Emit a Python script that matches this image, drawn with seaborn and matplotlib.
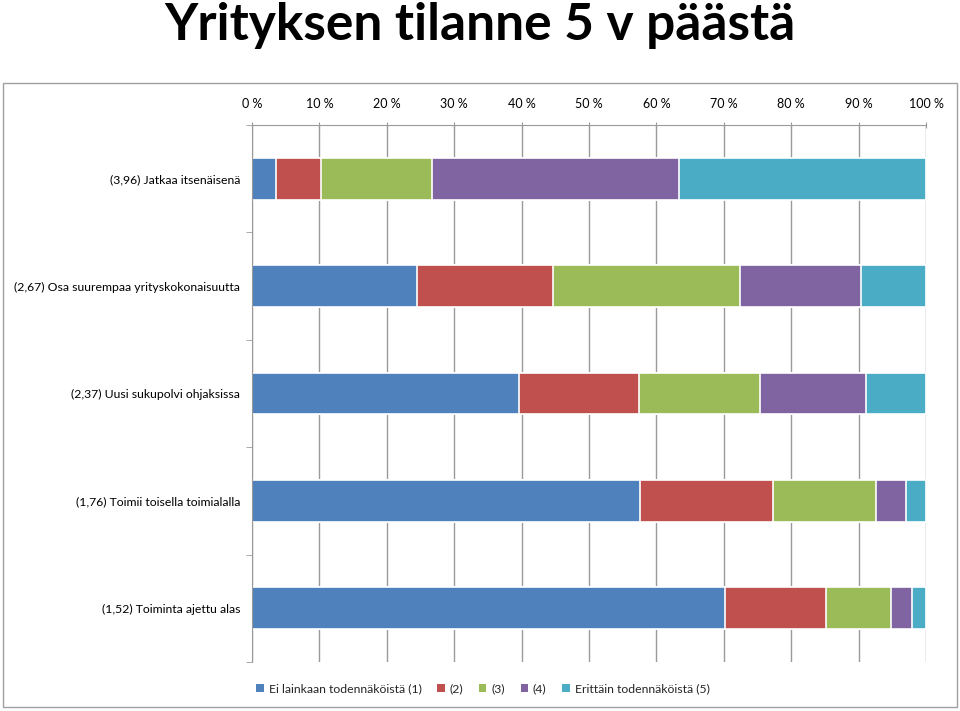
import matplotlib
matplotlib.use("Agg")
import matplotlib.pyplot as plt
from matplotlib.patches import Rectangle, Patch
import seaborn as sns
import pandas as pd
import numpy as np

# data (percent of answers per level)
categories = [
    "(3,96) Jatkaa itsenäisenä",
    "(2,67) Osa suurempaa yrityskokonaisuutta",
    "(2,37) Uusi sukupolvi ohjaksissa",
    "(1,76) Toimii toisella toimialalla",
    "(1,52) Toiminta ajettu alas",
]
level1 = [3.6, 24.5, 39.6, 57.6, 70.2]
level2 = [6.6, 20.2, 17.8, 19.7, 15.0]
level3 = [16.5, 27.7, 18.0, 15.3, 9.6]
level4 = [36.7, 18.0, 15.7, 4.4, 3.1]
level5 = [36.6, 9.6, 8.9, 3.0, 2.1]
level_names = ["Ei lainkaan todennäköistä (1)", "(2)", "(3)", "(4)", "Erittäin todennäköistä (5)"]
colors = ["#4F81BD", "#C0504D", "#9BBB59", "#8064A2", "#4BACC6"]
xticks = list(range(0, 101, 10))

sns.set_style("white")
plt.rcParams['font.family'] = ['Lato', 'DejaVu Sans']

df = pd.DataFrame({"cat": categories, "l1": level1, "l2": level2, "l3": level3,
                   "l4": level4, "l5": level5})
cols = ["l1", "l2", "l3", "l4", "l5"]
cum = df[cols].cumsum(axis=1)

fig = plt.figure(figsize=(9.6, 7.11), dpi=100)
ax = fig.add_axes([252 / 960, 1 - 662 / 711, (926 - 252) / 960, (662 - 125) / 711])

# stacked look: draw cumulative totals from the largest down
for i in range(4, -1, -1):
    sns.barplot(x=cum[cols[i]], y=df["cat"], color=colors[i], orient="h",
                width=0.39, saturation=1, edgecolor="white", linewidth=1.2, ax=ax)

ax.set_xlim(0, 100)
ax.set_ylim(4.5, -0.5)
ax.set_xticks(xticks)
ax.set_xticklabels([f"{t} %" for t in xticks])
ax.xaxis.tick_top()
ax.grid(axis="x", color="#9a9a9a", linewidth=1)
ax.set_axisbelow(True)
ax.set_xlabel("")
ax.set_ylabel("")
ax.tick_params(axis="x", top=True, length=4, direction="inout", color="#9a9a9a",
               labelsize=9, pad=9, labelcolor="black")
ax.tick_params(axis="y", which="major", length=0, labelsize=8.8, pad=8.5, labelcolor="black")
ax.set_yticks(np.arange(-0.5, 5, 1), minor=True)
ax.tick_params(axis="y", which="minor", left=True, length=4, color="#9a9a9a")
for s in ["right", "bottom"]:
    ax.spines[s].set_visible(False)
for s in ["left", "top"]:
    ax.spines[s].set_color("#9a9a9a")

# outer chart frame
fig.patches.append(Rectangle((3 / 960, 1 - 707 / 711), 954 / 960, 624 / 711,
                             transform=fig.transFigure, fill=False,
                             edgecolor="#a0a0a0", linewidth=1))

fig.text(0.5, 1 - 40 / 711, "Yrityksen tilanne 5 v päästä", ha="center", va="baseline",
         fontsize=37, fontweight="bold", color="black")

handles = [Patch(facecolor=c, edgecolor="none") for c in colors]
fig.legend(handles, level_names, loc="center", bbox_to_anchor=(483 / 960, 1 - 689 / 711),
           ncol=5, frameon=False, fontsize=8.8, handlelength=0.6, handleheight=0.6,
           handletextpad=0.4, columnspacing=1.3)

fig.savefig("out.png", dpi=100)
